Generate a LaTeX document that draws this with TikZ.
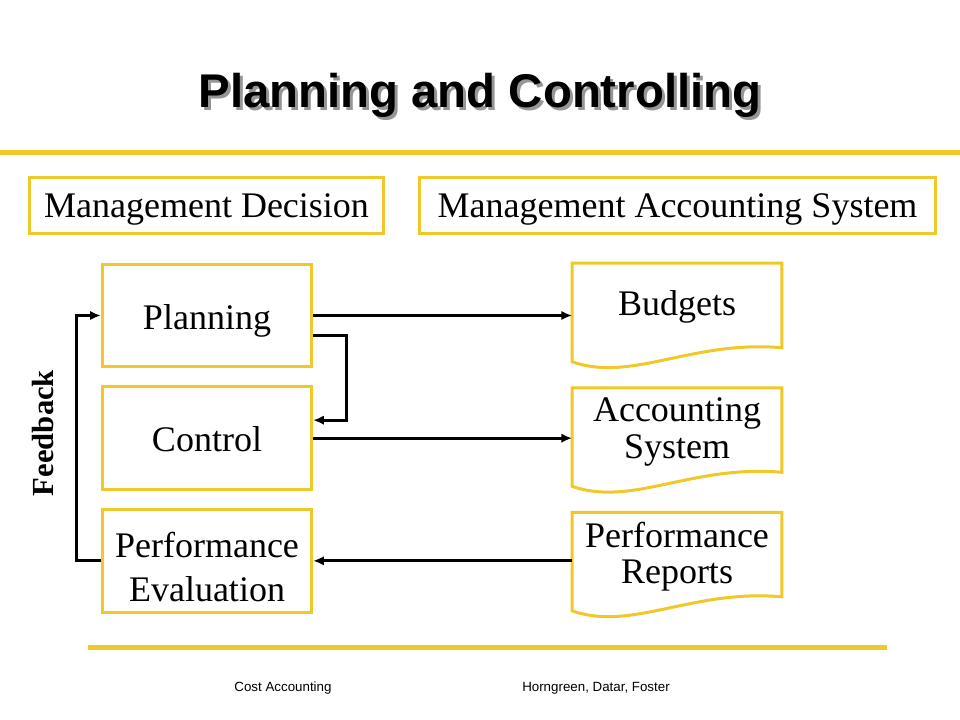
\documentclass[tikz,border=0pt]{standalone}
\usepackage{fontspec}
\setmainfont{Liberation Serif}
\newfontfamily\headfont{Liberation Sans}
\usetikzlibrary{positioning, arrows.meta, calc}
\definecolor{Gold}{RGB}{240,200,40}
\definecolor{Shade}{RGB}{150,150,150}
\tikzstyle{box}=[%
      rectangle, draw=Gold, line width=2.25pt, fill=white,
      minimum width=157pt, minimum height=77pt, inner sep=4pt, align=center,
      text height=20.5pt, text depth=0pt, font=\fontsize{27}{33}\selectfont
]
\tikzstyle{hd}=[%
      rectangle, draw=Gold, line width=2.25pt, fill=white,
      minimum height=42.5pt, inner sep=4pt, text height=18.5pt, text depth=0.5pt,
      font=\fontsize{27}{31}\selectfont
]
\tikzstyle{doc}=[%
      rectangle, minimum width=157pt, minimum height=63pt, inner sep=2pt, align=center,
      text depth=2.6pt, font=\fontsize{27}{27.5}\selectfont
]
\tikzstyle{two}=[text height=61pt, text depth=0pt]
\tikzstyle{arr}=[-{Latex[length=8pt,width=7pt]}, line width=2.25pt]
\tikzstyle{bar}=[Gold, line width=4pt]
% outline of a document node, wavy bottom
\newcommand{\docline}[1]{%
  \draw[Gold, line width=2.25pt] (#1.north west) -- (#1.north east) -- (#1.south east)
     .. controls ($(#1.south east)+(-90,-8)$) and ($(#1.south west)+(60,35)$) .. ($(#1.south west)+(0,14)$)
     -- cycle;}

\begin{document}
\begin{tikzpicture}[x=0.75pt, y=-0.75pt]
    \useasboundingbox[fill=white] (0,0) rectangle (960,720);

    % title
    \node[font=\headfont\bfseries\fontsize{35.5}{40}\selectfont, text=Shade, anchor=base] (tshade) at (483,111) {Planning and Controlling};
    \node[font=\headfont\bfseries\fontsize{35.5}{40}\selectfont, anchor=base] (title) at (480,108) {Planning and Controlling};
    \draw[bar] (0,152.5) -- (960,152.5);

    % headings
    \node[hd, minimum width=265.5pt] (mdec) at (206.5,205.5) {Management Decision};
    \node[hd, minimum width=387pt]   (mas)  at (677.5,205.5) {Management Accounting System};

    % left column
    \node[box] (plan)  at (207,315.5) {Planning};
    \node[box] (ctrl)  [below=12.75pt of plan] {Control};
    \node[box, two] (peval) [below=12.75pt of ctrl] {Performance\\Evaluation};

    % right column
    \node[doc, text height=17pt] (budg) at (677,305.5) {Budgets};
    \node[doc] (accs) [below=30pt of budg] {Accounting\\System};
    \node[doc] (prep) [below=30pt of accs] {Performance\\Reports};
    \docline{budg}
    \docline{accs}
    \docline{prep}

    \node[font=\bfseries\fontsize{23}{24}\selectfont, rotate=90] (fb) at (43,433) {Feedback};

    \draw[arr] (plan.east) -- (plan.east -| budg.west);
    \draw[arr] ([yshift=-15pt]plan.east) -- ++(25pt,0) |- ([yshift=13.5pt]ctrl.east);
    \draw[arr] (ctrl.east) -- (ctrl.east -| accs.west);
    \draw[arr] (peval.east -| prep.west) -- (peval.east);
    \draw[arr] (peval.west) -- ++(-18pt,0) |- (plan.west);

    % footer
    \draw[bar] (88,647.5) -- (887,647.5);
    \node[font=\headfont\fontsize{10}{12}\selectfont, anchor=base] (src)  at (283,691) {Cost Accounting};
    \node[font=\headfont\fontsize{10}{12}\selectfont, anchor=base] (auth) at (596,691) {Horngreen, Datar, Foster};

  \end{tikzpicture}
\end{document}
